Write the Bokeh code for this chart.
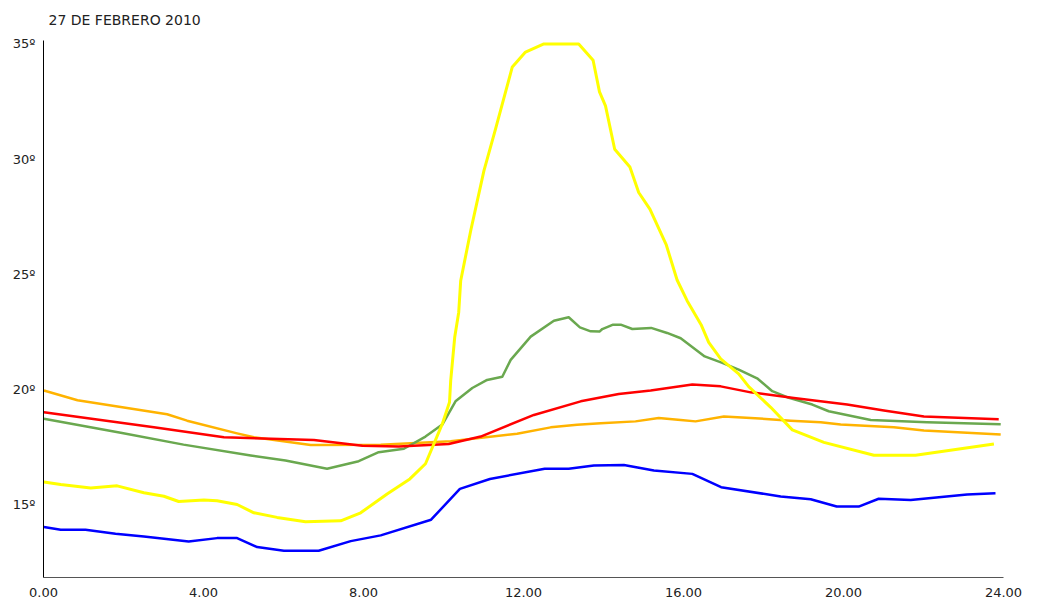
from bokeh.plotting import figure
from bokeh.models import FixedTicker, Range1d
from bokeh.embed import file_html
from bokeh.resources import INLINE

title_text = "27 DE FEBRERO 2010"

x_ticks = [0, 4, 8, 12, 16, 20, 24]
x_labels = ["0.00", "4.00", "8.00", "12.00", "16.00", "20.00", "24.00"]
y_ticks = [15, 20, 25, 30, 35]
y_labels = ["15º", "20º", "25º", "30º", "35º"]

blue_h = [0.01, 0.43, 1.05, 1.8, 2.51, 3.63, 4.34, 4.84, 5.34, 6.01, 6.88, 7.68, 8.43, 9.69, 10.41,
          11.16, 12.53, 13.13, 13.76, 14.51, 15.26, 16.22, 16.94, 18.43, 19.18, 19.83, 20.38, 20.88,
          21.68, 23.09, 23.8]
blue_v = [14.02, 13.90, 13.90, 13.73, 13.61, 13.39, 13.54, 13.54, 13.15, 12.99, 12.99, 13.41, 13.66,
          14.34, 15.68, 16.11, 16.55, 16.55, 16.69, 16.72, 16.48, 16.33, 15.75, 15.35, 15.23, 14.91,
          14.91, 15.25, 15.20, 15.43, 15.49]

yellow_h = [0.01, 0.43, 1.18, 1.84, 2.51, 3.01, 3.38, 4.01, 4.34, 4.84, 5.26, 5.84, 6.55, 7.43, 7.93,
            8.59, 9.16, 9.55, 9.97, 10.15, 10.18, 10.28, 10.38, 10.43, 10.68, 11.01, 11.3, 11.72,
            12.05, 12.51, 13.38, 13.74, 13.9, 14.05, 14.28, 14.66, 14.88, 15.16, 15.57, 15.84,
            16.09, 16.44, 16.63, 16.93, 17.38, 17.63, 18.18, 18.72, 19.51, 20.76, 21.8, 23.76]
yellow_v = [15.98, 15.87, 15.72, 15.81, 15.51, 15.36, 15.13, 15.20, 15.16, 15.0, 14.64, 14.44, 14.25,
            14.29, 14.64, 15.46, 16.11, 16.77, 18.50, 19.44, 20.38, 22.26, 23.34, 24.72, 26.89,
            29.49, 31.30, 34.0, 34.65, 35.0, 35.0, 34.29, 32.92, 32.31, 30.43, 29.66, 28.55, 27.83,
            26.27, 24.75, 23.85, 22.81, 22.04, 21.32, 20.67, 20.12, 19.22, 18.24, 17.70, 17.14,
            17.14, 17.63]

green_h = [0.01, 1.93, 3.5, 5.18, 6.05, 7.09, 7.88, 8.38, 9.01, 9.55, 9.97, 10.3, 10.72, 11.09, 11.47,
           11.68, 12.18, 12.76, 13.13, 13.41, 13.68, 13.9, 13.97, 14.24, 14.43, 14.72, 15.19, 15.59,
           15.93, 16.53, 16.97, 17.38, 17.84, 18.22, 18.59, 19.22, 19.63, 20.68, 22.09, 23.93]
green_v = [18.72, 18.12, 17.60, 17.13, 16.91, 16.55, 16.88, 17.27, 17.42, 17.95, 18.47, 19.48, 20.06,
           20.41, 20.55, 21.28, 22.29, 22.98, 23.13, 22.69, 22.52, 22.51, 22.62, 22.81, 22.81,
           22.62, 22.67, 22.45, 22.22, 21.43, 21.15, 20.86, 20.48, 19.92, 19.66, 19.34, 19.05,
           18.67, 18.57, 18.49]

orange_h = [0.01, 0.85, 3.09, 3.59, 4.84, 5.26, 6.68, 8.43, 10.18, 11.84, 12.68, 13.34, 13.93, 14.8,
            15.38, 15.93, 16.3, 17.01, 17.68, 18.68, 19.43, 19.93, 21.26, 22.01, 23.93]
orange_v = [19.95, 19.53, 18.92, 18.64, 18.09, 17.92, 17.58, 17.59, 17.75, 18.07, 18.35, 18.46, 18.53,
            18.61, 18.76, 18.67, 18.61, 18.82, 18.76, 18.64, 18.57, 18.47, 18.35, 18.21, 18.04]

red_h = [0.01, 2.76, 4.51, 6.76, 7.97, 8.88, 10.13, 10.93, 12.26, 13.43, 14.38, 15.18, 16.22, 16.93,
         17.68, 18.76, 20.09, 21.01, 22.01, 23.88]
red_v = [19.01, 18.35, 17.92, 17.80, 17.55, 17.52, 17.63, 17.95, 18.89, 19.48, 19.80, 19.95, 20.21,
         20.13, 19.87, 19.63, 19.34, 19.08, 18.82, 18.70]

series = [
    (blue_h, blue_v, "#0000FF", 2.5),
    (orange_h, orange_v, "#FFB300", 2.5),
    (green_h, green_v, "#6AA84F", 2.5),
    (red_h, red_v, "#FF0000", 2.5),
    (yellow_h, yellow_v, "#FFFF00", 3),
]

p = figure(width=1041, height=604, output_backend="svg", toolbar_location=None,
           x_range=Range1d(0, 24), y_range=Range1d(11.83, 35.15),
           min_border_left=43, min_border_right=38, min_border_top=40, min_border_bottom=27,
           title=title_text)
p.outline_line_color = None
p.grid.visible = False
p.background_fill_color = "white"
p.border_fill_color = "white"

p.title.text_font = "DejaVu Sans"
p.title.text_font_size = "14px"
p.title.text_font_style = "normal"
p.title.text_color = "#222222"
p.title.offset = 5
p.title.standoff = 22
p.title.vertical_align = "top"

for xs, ys, c, w in series:
    p.line(xs, ys, line_color=c, line_width=w, line_join="round")

xa = p.xaxis[0]
xa.ticker = FixedTicker(ticks=x_ticks)
xa.major_label_overrides = {t: l for t, l in zip(x_ticks, x_labels)}
xa.major_tick_line_color = None
xa.minor_tick_line_color = None
xa.major_tick_out = 0
xa.major_tick_in = 0
xa.axis_line_color = "#555555"
xa.axis_line_width = 1
xa.major_label_standoff = 10
xa.major_label_text_align = "left"
xa.major_label_text_font = "DejaVu Sans"
xa.major_label_text_font_size = "13px"
xa.major_label_text_color = "#222222"

ya = p.yaxis[0]
ya.ticker = FixedTicker(ticks=y_ticks)
ya.major_label_overrides = {t: l for t, l in zip(y_ticks, y_labels)}
ya.major_tick_line_color = None
ya.minor_tick_line_color = None
ya.major_tick_out = 0
ya.major_tick_in = 0
ya.axis_line_color = "#000000"
ya.axis_line_width = 1
ya.major_label_standoff = 8
ya.major_label_text_font = "DejaVu Sans"
ya.major_label_text_font_size = "13px"
ya.major_label_text_color = "#222222"

open("out.html", "w").write(file_html(p, INLINE))
